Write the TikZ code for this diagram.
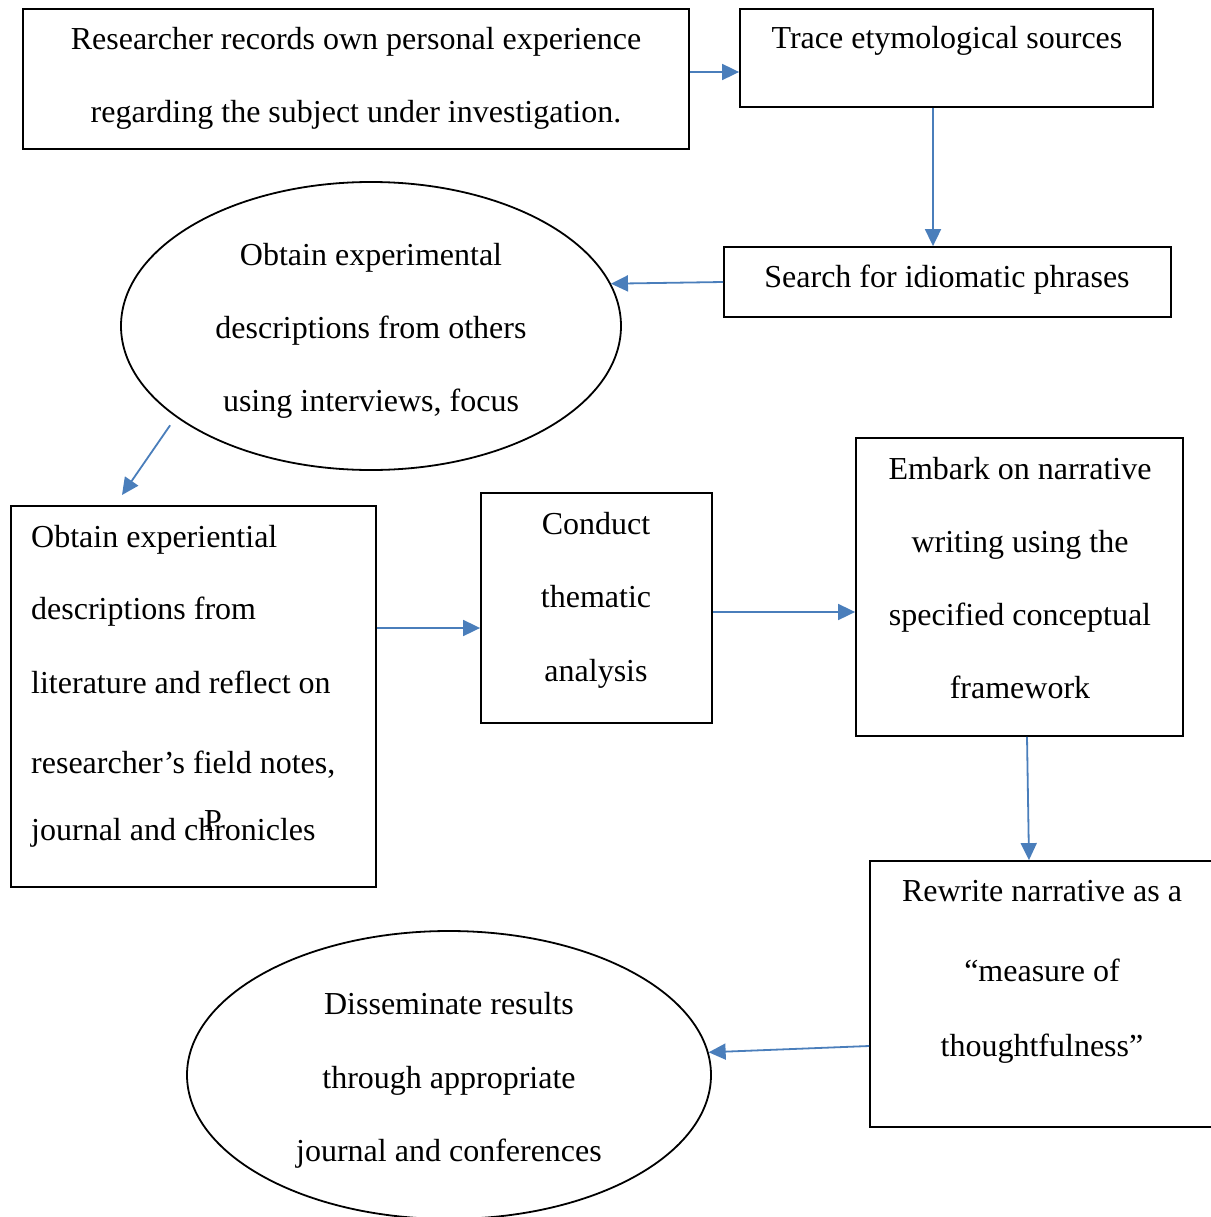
\documentclass[tikz,border=0pt]{standalone}
\usepackage{fontspec}
\setmainfont{Liberation Serif}
\usetikzlibrary{arrows.meta,shapes.geometric}
\definecolor{arrblue}{RGB}{74,126,187}
\begin{document}
\begin{tikzpicture}[x=1pt,y=-1pt,
  box/.style={draw=black,line width=1.8pt,inner sep=0pt},
  oval/.style={draw=black,line width=1.8pt,ellipse,inner sep=0pt},
  txt/.style={anchor=base,inner sep=0pt,font=\fontsize{32}{38}\selectfont},
  ltxt/.style={anchor=base west,inner sep=0pt,font=\fontsize{32}{38}\selectfont},
  conn/.style={draw=arrblue,line width=1.8pt,-{Triangle[length=17pt,width=16pt]}}]
\useasboundingbox (0,0) rectangle (1210,1217);
% shapes
\node[box,minimum width=666pt,minimum height=140pt] (b1) at (356,79) {};
\node[box,minimum width=413pt,minimum height=98pt] (b2) at (946.5,58) {};
\node[box,minimum width=447pt,minimum height=70pt] (b3) at (947.5,282) {};
\node[oval,minimum width=500pt,minimum height=288pt] (e1) at (371,326) {};
\node[box,minimum width=365pt,minimum height=381pt] (b4) at (193.5,696.5) {};
\node[box,minimum width=231pt,minimum height=230pt] (b5) at (596.5,608) {};
\node[box,minimum width=327pt,minimum height=298pt] (b6) at (1019.5,587) {};
\node[box,minimum width=345pt,minimum height=266pt] (b7) at (1042.5,994) {};
\node[oval,minimum width=524pt,minimum height=288pt] (e2) at (449,1075) {};
% texts
\node[txt] (t1a) at (356,50) {Researcher records own personal experience};
\node[txt] (t1b) at (356,123) {regarding the subject under investigation.};
\node[txt] (t2) at (947,49) {Trace etymological sources};
\node[txt] (t3) at (947,287) {Search for idiomatic phrases};
\node[txt] (t4a) at (371,265) {Obtain experimental};
\node[txt] (t4b) at (371,338) {descriptions from others};
\node[txt] (t4c) at (371,411) {using interviews, focus};
\node[ltxt] (t5a) at (31,547) {Obtain experiential};
\node[ltxt] (t5b) at (31,619) {descriptions from};
\node[ltxt] (t5c) at (31,693) {literature and reflect on};
\node[ltxt] (t5d) at (31,773) {researcher’s field notes,};
\node[ltxt] (t5e) at (31,840) {journal and chronicles};
\node[txt] (tp) at (213,831) {P};
\node[txt] (t6a) at (596,534) {Conduct};
\node[txt] (t6b) at (596,607) {thematic};
\node[txt] (t6c) at (596,681) {analysis};
\node[txt] (t7a) at (1020,479) {Embark on narrative};
\node[txt] (t7b) at (1020,552) {writing using the};
\node[txt] (t7c) at (1020,625) {specified conceptual};
\node[txt] (t7d) at (1020,698) {framework};
\node[txt] (t8a) at (1042,901) {Rewrite narrative as a};
\node[txt] (t8b) at (1042,981) {“measure of};
\node[txt] (t8c) at (1042,1056) {thoughtfulness”};
\node[txt] (t9a) at (449,1014) {Disseminate results};
\node[txt] (t9b) at (449,1088) {through appropriate};
\node[txt] (t9c) at (449,1161) {journal and conferences};
% connectors
\coordinate (c4) at (122,495);
\draw[conn] ([yshift=7pt]b1.east) -- ([yshift=-14pt]b2.west);
\draw[conn] ([xshift=-13.5pt]b2.south) -- ([xshift=-14.5pt]b3.north);
\draw[conn] (b3.west) -- (e1.10);
\draw[conn,shorten <=10pt] (e1.205) -- (c4);
\draw[conn] ([yshift=68.5pt]b4.east) -- ([yshift=-20pt]b5.west);
\draw[conn] ([yshift=-4pt]b5.east) -- ([yshift=-25pt]b6.west);
\draw[conn] ([xshift=7.5pt]b6.south) -- ([xshift=-13.5pt]b7.north);
\draw[conn] ([yshift=-52pt]b7.west) -- (e2.5);
\end{tikzpicture}
\end{document}
